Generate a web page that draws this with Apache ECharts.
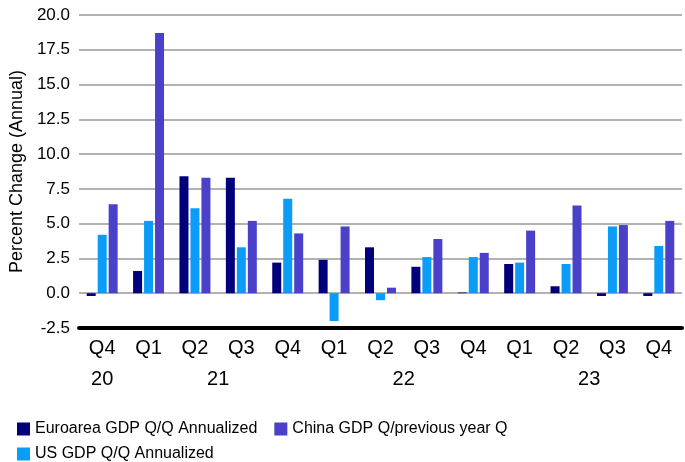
<!DOCTYPE html>
<html>
<head>
<meta charset="utf-8">
<script src="https://cdn.jsdelivr.net/npm/echarts@6/dist/echarts.min.js"></script>
<style>
html,body{margin:0;padding:0;background:#fff;}
#chart{width:685px;height:462px;}
</style>
</head>
<body>
<div id="chart"></div>
<script>
// Data
const quarters = ['Q4','Q1','Q2','Q3','Q4','Q1','Q2','Q3','Q4','Q1','Q2','Q3','Q4'];
const years    = ['20','21','21','21','21','22','22','22','22','23','23','23','23'];
const euroarea = [-0.2, 1.6, 8.4, 8.3, 2.2, 2.4, 3.3, 1.9, 0.05, 2.1, 0.5, -0.2, -0.2];
const usGdp    = [4.2, 5.2, 6.1, 3.3, 6.8, -2.0, -0.5, 2.6, 2.6, 2.2, 2.1, 4.8, 3.4];
const chinaGdp = [6.4, 18.7, 8.3, 5.2, 4.3, 4.8, 0.4, 3.9, 2.9, 4.5, 6.3, 4.9, 5.2];
const yTicks = { min: -2.5, max: 20, interval: 2.5 };
const seriesNames = ['Euroarea GDP Q/Q Annualized', 'US GDP Q/Q Annualized', 'China GDP Q/previous year Q'];

// Build year labels on a half-category axis (centred under each year's run of quarters)
const yearSlots = new Array(quarters.length * 2 + 1).fill('');
let s = 0;
for (let i = 1; i <= years.length; i++) {
  if (i === years.length || years[i] !== years[s]) {
    yearSlots[s + (i - 1) + 1] = years[s];
    s = i;
  }
}

const FONT = '"Liberation Sans", Arial, sans-serif';
const colors = ['#00007a', '#0a9cf7', '#4a40c9'];

const chart = echarts.init(document.getElementById('chart'));
chart.setOption({
  animation: false,
  textStyle: { fontFamily: FONT },
  legend: [
    {
      data: [seriesNames[0], seriesNames[2]],
      left: 17, top: 421, padding: 0,
      itemWidth: 13, itemHeight: 13, itemGap: 17,
      icon: 'rect',
      textStyle: { fontSize: 16, color: '#000', fontFamily: FONT }
    },
    {
      data: [seriesNames[1]],
      left: 17, top: 446, padding: 0,
      itemWidth: 13, itemHeight: 13, itemGap: 17,
      icon: 'rect',
      textStyle: { fontSize: 16, color: '#000', fontFamily: FONT }
    }
  ],
  grid: { left: 77, right: 0, top: 15, bottom: 134, containLabel: false },
  xAxis: [
    {
      type: 'category',
      data: quarters,
      position: 'bottom',
      axisLine: { onZero: false, lineStyle: { color: '#000', width: 4 } },
      axisTick: { show: false },
      axisLabel: { interval: 0, fontSize: 20, color: '#000', margin: 10, fontFamily: FONT },
      splitLine: { show: false }
    },
    {
      type: 'category',
      data: yearSlots,
      position: 'bottom',
      offset: 31,
      boundaryGap: false,
      axisLine: { show: false },
      axisTick: { show: false },
      axisLabel: { interval: 0, fontSize: 20, color: '#000', margin: 10, fontFamily: FONT },
      splitLine: { show: false }
    }
  ],
  yAxis: {
    type: 'value',
    min: yTicks.min, max: yTicks.max, interval: yTicks.interval,
    name: 'Percent Change (Annual)',
    nameLocation: 'middle',
    nameRotate: 90,
    nameGap: 44,
    nameTextStyle: { fontSize: 18, color: '#000', fontFamily: FONT },
    axisLine: { show: false },
    axisTick: { show: false },
    axisLabel: { fontSize: 17, color: '#000', margin: 9, fontFamily: FONT,
      formatter: v => v.toFixed(1) },
    splitLine: { lineStyle: { color: '#999', width: 1.6 } }
  },
  series: [
    { name: seriesNames[0], type: 'bar', data: euroarea, xAxisIndex: 0, barWidth: 9, barGap: '22%',
      itemStyle: { color: colors[0] } },
    { name: seriesNames[1], type: 'bar', data: usGdp, xAxisIndex: 0, barWidth: 9, barGap: '22%',
      itemStyle: { color: colors[1] } },
    { name: seriesNames[2], type: 'bar', data: chinaGdp, xAxisIndex: 0, barWidth: 9, barGap: '22%',
      itemStyle: { color: colors[2] } }
  ]
});
</script>
</body>
</html>
